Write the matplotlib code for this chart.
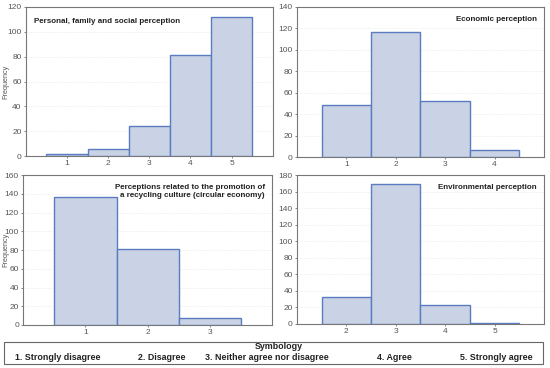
import matplotlib
matplotlib.use("Agg")
import matplotlib.pyplot as plt
from matplotlib.patches import Rectangle

plt.rcParams['font.family'] = ['Liberation Sans', 'DejaVu Sans']

# data
cats_personal = [1, 2, 3, 4, 5]
freq_personal = [2, 6, 24, 81, 112]
cats_economic = [1, 2, 3, 4]
freq_economic = [49, 117, 52, 7]
cats_recycling = [1, 2, 3]
freq_recycling = [137, 81, 7]
cats_environ = [2, 3, 4, 5]
freq_environ = [32, 169, 23, 1]

symbology = ["1. Strongly disagree", "2. Disagree", "3. Neither agree nor disagree",
             "4. Agree", "5. Strongly agree"]

fill_col = "#c9d3e5"
edge_col = "#5b7cc0"
tick_col = "#555555"

fig = plt.figure(figsize=(5.5, 3.68), dpi=100)

panels = [
    ([0.047, 0.576, 0.449, 0.405], cats_personal, freq_personal, (0, 6), (0, 120), 20,
     "Personal, family and social perception", "left", True),
    ([0.540, 0.573, 0.449, 0.408], cats_economic, freq_economic, (0, 5), (0, 140), 20,
     "Economic perception", "right", False),
    ([0.042, 0.117, 0.453, 0.407], cats_recycling, freq_recycling, (0, 4), (0, 160), 20,
     "Perceptions related to the promotion of\na recycling culture (circular economy)", "right", True),
    ([0.540, 0.120, 0.449, 0.404], cats_environ, freq_environ, (1, 6), (0, 180), 20,
     "Environmental perception", "right", False),
]

for rect, cats, vals, xl, yl, step, title, align, ylab in panels:
    ax = fig.add_axes(rect)
    ax.bar(cats, vals, width=1.0, color=fill_col, edgecolor=edge_col, linewidth=1.0, zorder=3)
    ax.set_xlim(*xl)
    ax.set_ylim(*yl)
    ax.set_xticks(cats)
    ax.set_yticks(range(yl[0], yl[1] + 1, step))
    ax.tick_params(labelsize=6, colors=tick_col, length=1.5, width=0.5, pad=1.5)
    ax.grid(axis="y", color="#e6e6e6", linestyle=":", linewidth=0.6, zorder=0)
    for s in ax.spines.values():
        s.set_color("#777777")
        s.set_linewidth(0.8)
    if ylab:
        ax.set_ylabel("Frequency", fontsize=5.2, color=tick_col)
        # right edge of the label at about 9 px from the figure's left side
        x_px = rect[0] * 550
        ax.yaxis.set_label_coords((9.5 - x_px) / (rect[2] * 550), 0.5)
    if align == "left":
        ax.text(0.035, 0.9, title, transform=ax.transAxes, fontsize=5.8,
                fontweight="bold", ha="left", va="center", color="#222222", zorder=5)
    else:
        ax.text(0.97, 0.92 if "\n" not in title else 0.89, title, transform=ax.transAxes,
                fontsize=5.8, fontweight="bold", ha="right", va="center",
                color="#222222", zorder=5, linespacing=1.15)

# symbology box
fig.patches.append(Rectangle((0.007, 0.011), 0.98, 0.06, transform=fig.transFigure,
                             fill=False, edgecolor="#666666", linewidth=0.8))
fig.text(0.506, 0.058, "Symbology", fontsize=6.4, fontweight="bold", ha="center",
         va="center", color="#222222")
xs = [0.1045, 0.2936, 0.4845, 0.7164, 0.9018]
for x, s in zip(xs, symbology):
    fig.text(x, 0.029, s, fontsize=6.4, fontweight="bold", ha="center",
             va="center", color="#222222")

fig.savefig("out.png", dpi=100)
